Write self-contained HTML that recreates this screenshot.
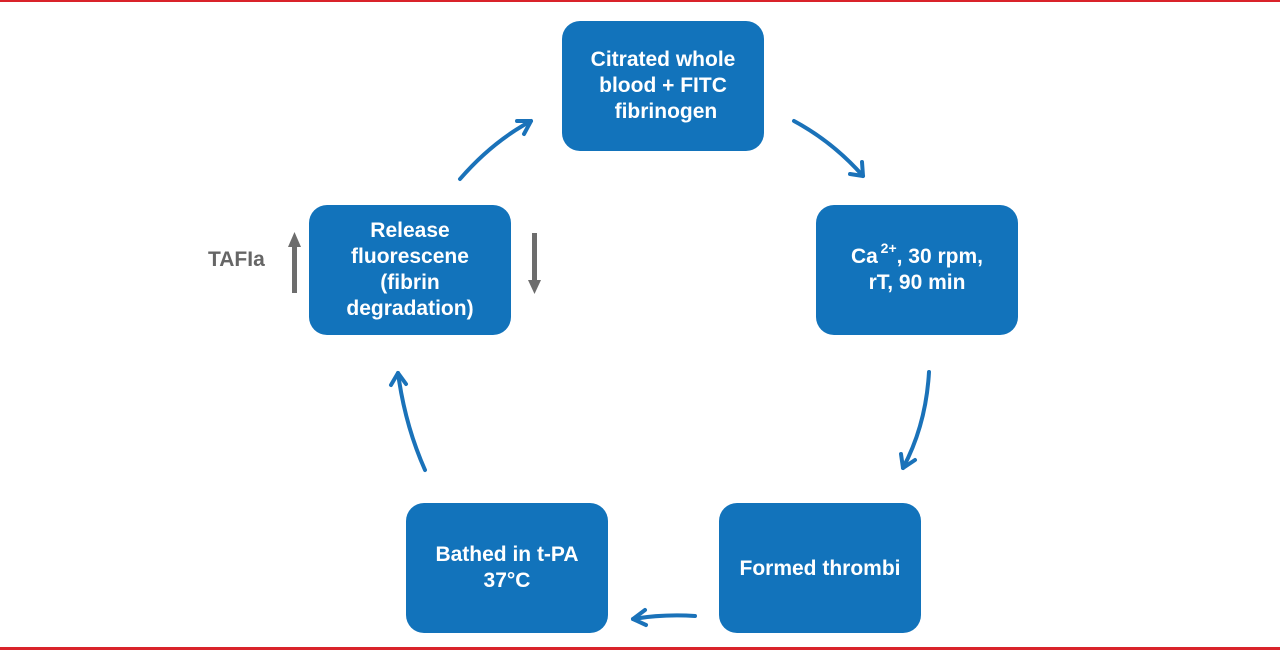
<!DOCTYPE html>
<html><head><style>
body{margin:0;width:1280px;height:650px;background:#fff;position:relative;overflow:hidden;font-family:"Liberation Sans",Arial,sans-serif}
.b{position:absolute;width:202px;height:130px;background:#1273bb;border-radius:18px;color:#fff;font-weight:bold;font-size:21px;line-height:26px;display:flex;align-items:center;justify-content:center;text-align:center}
.r{position:absolute;left:0;width:1280px;height:2px;background:#d9232a}
</style></head><body>
<div class="r" style="top:0"></div>
<div class="r" style="top:647px;height:3px"></div>
<div class="b" style="left:562px;top:21px"><div>Citrated whole<br>blood + FITC<br>&nbsp;fibrinogen</div></div>
<div class="b" style="left:816px;top:205px"><div>Ca<sup style="font-size:14px;line-height:0;position:relative;top:-2px">&thinsp;2+</sup>, 30 rpm,<br>rT, 90 min</div></div>
<div class="b" style="left:719px;top:503px"><div style="margin-top:2px">Formed thrombi</div></div>
<div class="b" style="left:406px;top:503px"><div>Bathed in t-PA<br>37°C</div></div>
<div class="b" style="left:309px;top:205px"><div>Release<br>fluorescene<br>(fibrin<br>degradation)</div></div>
<div style="position:absolute;left:208px;top:248px;color:#666;font-weight:bold;font-size:21px">TAFIa</div>
<svg width="1280" height="650" style="position:absolute;left:0;top:0">
<g fill="none" stroke="#1a72b9" stroke-width="4" stroke-linecap="round" stroke-linejoin="round">
<path d="M460 179 Q492 142 531 121"/><path d="M517 121 L531 121 L524 134"/>
<path d="M794 121 Q833 142 863 176"/><path d="M850 174 L863 176 L862 162"/>
<path d="M929 372 Q926 425 903 468"/><path d="M901 454 L903 468 L915 460"/>
<path d="M695 616 Q663 614 633 619"/><path d="M645 610 L633 619 L646 625"/>
<path d="M425 470 Q405 425 398 373"/><path d="M391 385 L398 373 L406 384"/>
</g>
<g fill="#6d6d6d">
<rect x="292" y="245" width="5" height="48"/><polygon points="288,247 301,247 294.5,232"/>
<rect x="532" y="233" width="5" height="48"/><polygon points="528,280 541,280 534.5,294"/>
</g>
</svg>
</body></html>
